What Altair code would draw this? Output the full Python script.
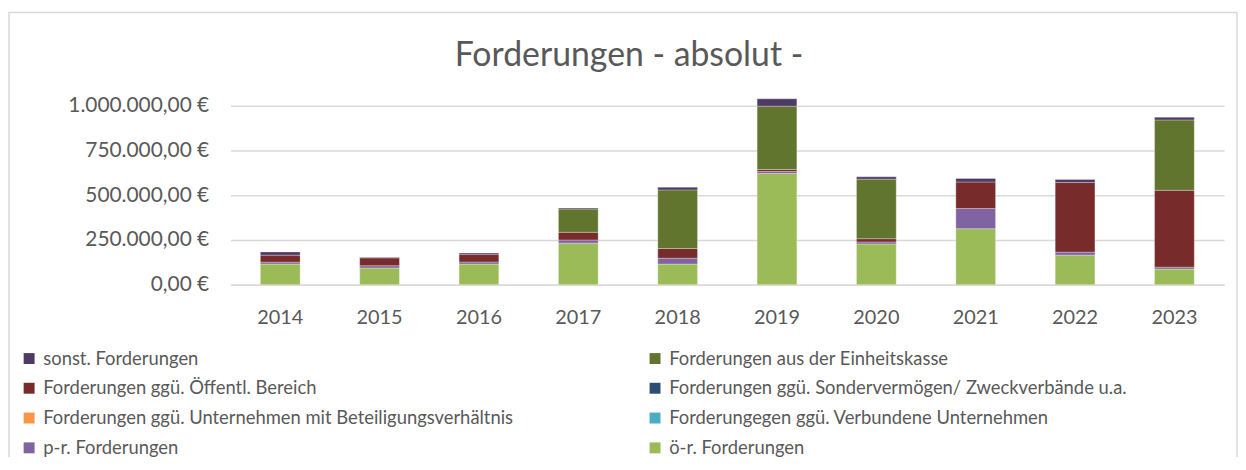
import altair as alt
import pandas as pd

years = ["2014", "2015", "2016", "2017", "2018", "2019", "2020", "2021", "2022", "2023"]

title_text = "Forderungen - absolut -"

# legend order (column-major for Vega's 2-column grid)
series = [
    "sonst. Forderungen",
    "Forderungen ggü. Öffentl. Bereich",
    "Forderungen ggü. Unternehmen mit Beteiligungsverhältnis",
    "p-r. Forderungen",
    "Forderungen aus der Einheitskasse",
    "Forderungen ggü. Sondervermögen/ Zweckverbände u.a.",
    "Forderungegen ggü. Verbundene Unternehmen",
    "ö-r. Forderungen",
]
colors = ["#4E3B64", "#772B2A", "#F79646", "#8064A2", "#61752F", "#2C4D75", "#4BACC6", "#9BBB59"]

# stacking order bottom -> top
stack_order = [
    "ö-r. Forderungen",
    "p-r. Forderungen",
    "Forderungegen ggü. Verbundene Unternehmen",
    "Forderungen ggü. Unternehmen mit Beteiligungsverhältnis",
    "Forderungen ggü. Sondervermögen/ Zweckverbände u.a.",
    "Forderungen ggü. Öffentl. Bereich",
    "Forderungen aus der Einheitskasse",
    "sonst. Forderungen",
]

oer = [115000, 93000, 115000, 232000, 115000, 622000, 228000, 313000, 165000, 87000]
pr = [11000, 13000, 12000, 18000, 33000, 11000, 11000, 113000, 17000, 11000]
verbundene = [0, 0, 0, 0, 0, 0, 0, 0, 0, 0]
beteiligung = [0, 0, 0, 0, 0, 0, 0, 0, 0, 0]
sondervermoegen = [0, 0, 0, 0, 0, 0, 0, 0, 0, 0]
oeffentl = [39000, 44000, 43000, 43000, 54000, 11000, 18000, 148000, 389000, 430000]
einheitskasse = [0, 0, 0, 130000, 328000, 354000, 333000, 0, 0, 393000]
sonst = [18000, 3000, 7000, 5000, 15000, 41000, 13000, 20000, 17000, 15000]

values_by_series = {
    "ö-r. Forderungen": oer,
    "p-r. Forderungen": pr,
    "Forderungegen ggü. Verbundene Unternehmen": verbundene,
    "Forderungen ggü. Unternehmen mit Beteiligungsverhältnis": beteiligung,
    "Forderungen ggü. Sondervermögen/ Zweckverbände u.a.": sondervermoegen,
    "Forderungen ggü. Öffentl. Bereich": oeffentl,
    "Forderungen aus der Einheitskasse": einheitskasse,
    "sonst. Forderungen": sonst,
}

rows = []
for s in stack_order:
    for y, v in zip(years, values_by_series[s]):
        if v > 0:
            rows.append({"Jahr": y, "Serie": s, "Wert": v, "ord": stack_order.index(s)})
df = pd.DataFrame(rows)

FONT = "Lato"
GREY = "#595959"

label_expr = ("replace(replace(replace(format(datum.value, ',.2f'), regexp(',', 'g'), '_'), "
              "regexp('[.]', 'g'), ','), regexp('_', 'g'), '.') + ' €'")

bars = alt.Chart(df).mark_bar(stroke="#ffffff", strokeWidth=0.6, strokeOpacity=0.5).encode(
    x=alt.X("Jahr:N", sort=years, title=None,
            scale=alt.Scale(paddingInner=0.6, paddingOuter=0.3),
            axis=alt.Axis(labelAngle=0, ticks=False, domain=True, domainColor="#D9D9D9",
                          domainWidth=1.5, labelFont=FONT, labelFontSize=20, labelColor=GREY,
                          labelPadding=23, grid=False)),
    y=alt.Y("Wert:Q", stack="zero", title=None,
            scale=alt.Scale(domain=[0, 1000000], nice=False),
            axis=alt.Axis(values=[0, 250000, 500000, 750000, 1000000], labelExpr=label_expr,
                          ticks=False, domain=False, grid=True, gridColor="#D9D9D9",
                          gridWidth=1.5, labelFont=FONT, labelFontSize=21, labelColor=GREY,
                          labelPadding=22)),
    color=alt.Color("Serie:N", scale=alt.Scale(domain=series, range=colors),
                    legend=alt.Legend(title=None, orient="none", legendX=-212, legendY=245,
                                      columns=2, columnPadding=133, rowPadding=11,
                                      symbolType="square", symbolSize=121, symbolStrokeWidth=0,
                                      labelFont=FONT, labelFontSize=18.5, labelColor=GREY,
                                      labelLimit=700, labelOffset=5, padding=0)),
    order=alt.Order("ord:Q", sort="ascending"),
)

frame = alt.Chart(pd.DataFrame({"a": [0]})).mark_rect(
    fillOpacity=0, stroke="#D9D9D9", strokeWidth=1.5
).encode(x=alt.value(-223), x2=alt.value(1013), y=alt.value(-94), y2=alt.value(420))

title = alt.Chart(pd.DataFrame({"t": [title_text]})).mark_text(
    font=FONT, fontSize=34, color=GREY, align="center", baseline="alphabetic"
).encode(text="t:N", x=alt.value(401), y=alt.value(-40))

chart = alt.layer(frame, bars, title).properties(
    width=1000, height=180,
    autosize=alt.AutoSizeParams(type="none"),
    padding={"left": 224, "top": 97, "right": 14, "bottom": 172},
).configure_view(stroke=None)

chart.save("out.html", embed_options={"renderer": "svg", "actions": False})
